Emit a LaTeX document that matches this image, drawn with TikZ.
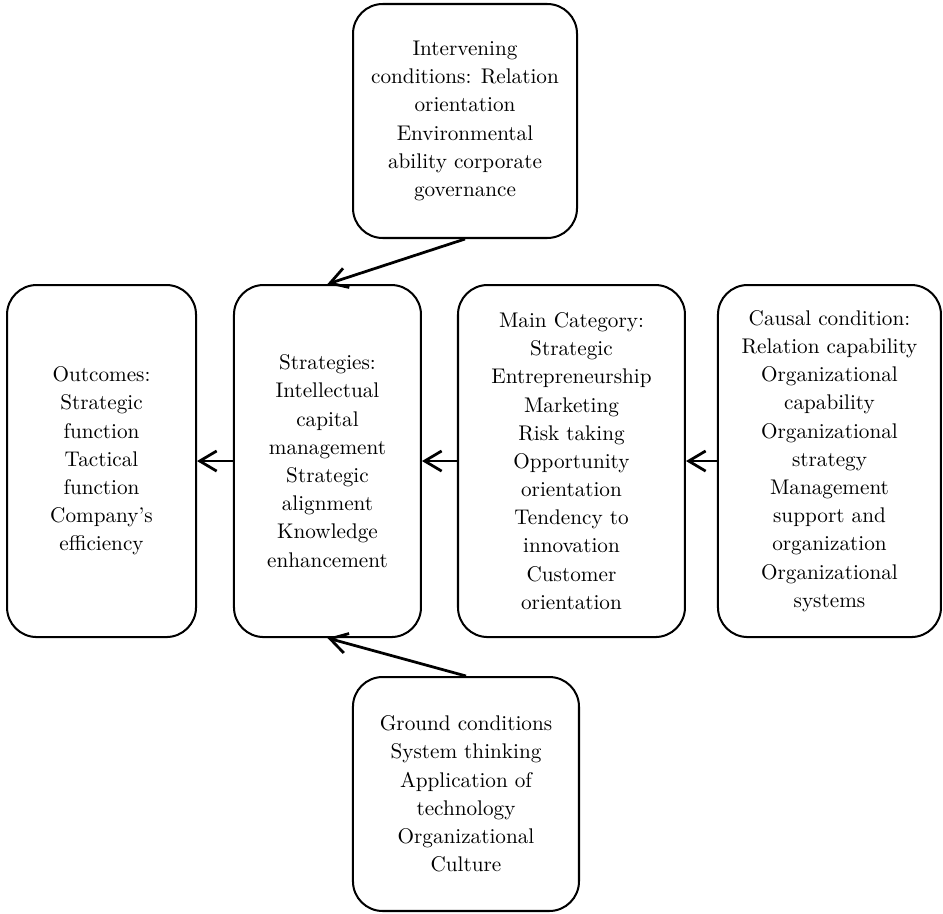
\documentclass[tikz,border=0pt]{standalone}
\usepackage{tikz}
\usepackage{amsmath}
\usetikzlibrary{arrows.meta}

\tikzset{
	catbox/.style={draw, line width=0.95pt, rectangle, rounded corners=14pt, align=center, font=\fontsize{10pt}{13.3pt}\selectfont, inner sep=2pt},
	flow/.style={line width=1.3pt, -{Straight Barb[length=8pt, width=9.5pt]}}
}

\begin{document}
\begin{tikzpicture}
				\useasboundingbox (0, 0) rectangle (15.633, -15.136);
				\node[catbox, minimum width=3.133cm, minimum height=5.836cm] (O)at(1.683, -7.643) {Outcomes:\\Strategic\\function\\Tactical\\function\\Company's\\efficiency};
				\node[catbox, minimum width=3.100cm, minimum height=5.836cm] (S)at(5.429, -7.643) {Strategies:\\Intellectual\\capital\\management\\Strategic\\alignment\\Knowledge\\enhancement};
				\node[catbox, minimum width=3.763cm, minimum height=5.836cm] (M)at(9.474, -7.643) {Main Category:\\Strategic\\Entrepreneurship\\Marketing\\Risk taking\\Opportunity\\orientation\\Tendency to\\innovation\\Customer\\orientation};
				\node[catbox, minimum width=3.697cm, minimum height=5.836cm] (C)at(13.751, -7.643) {Causal condition:\\Relation capability\\Organizational\\capability\\Organizational\\strategy\\Management\\support and\\organization\\Organizational\\systems};
				\node[catbox, minimum width=3.713cm, minimum height=3.879cm] (I)at(7.709, -2.006) {Intervening\\conditions: Relation\\orientation\\Environmental\\ability corporate\\governance};
				\node[catbox, minimum width=3.747cm, minimum height=3.879cm] (G)at(7.725, -13.163) {Ground conditions\\System thinking\\Application of\\technology\\Organizational\\Culture};
				\draw[flow] (C.west) -- (M.east);
				\draw[flow] (M.west) -- (S.east);
				\draw[flow] (S.west) -- (O.east);
				\draw[flow] (I.south) -- (S.north);
				\draw[flow] (G.north) -- (S.south);
			\end{tikzpicture}
\end{document}
